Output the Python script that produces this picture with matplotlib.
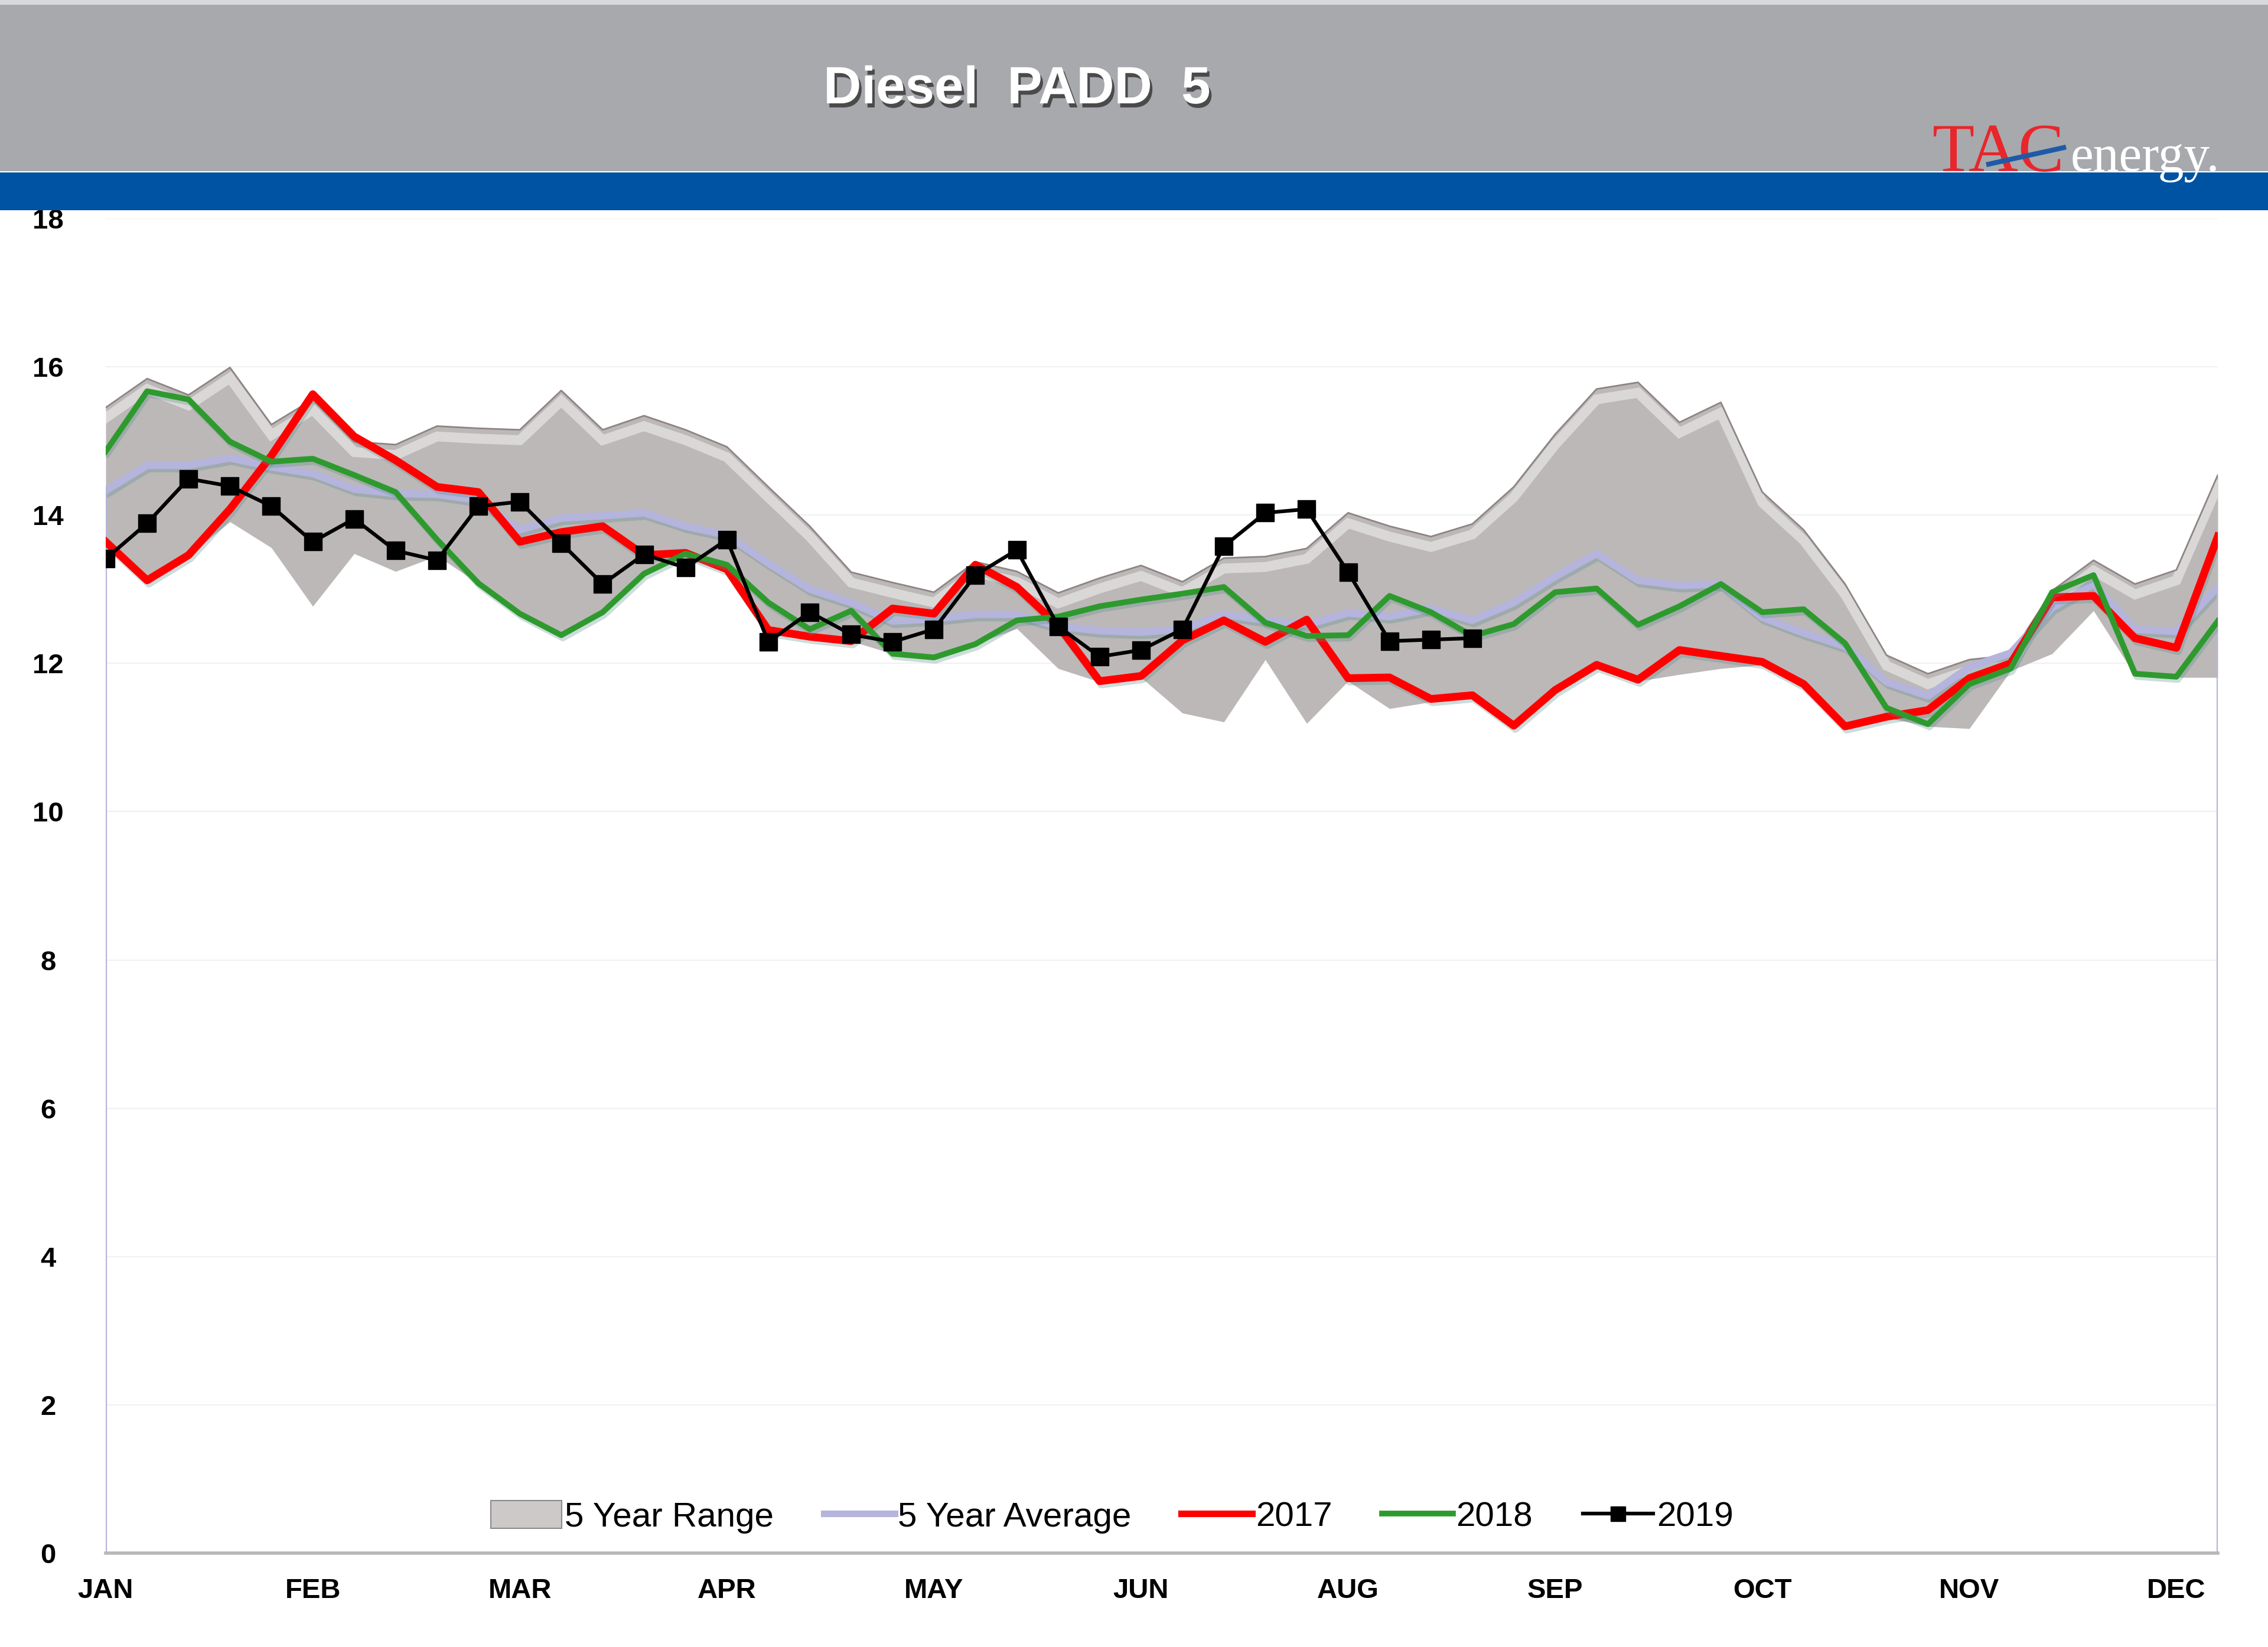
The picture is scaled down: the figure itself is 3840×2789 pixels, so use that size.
import numpy as np
import matplotlib
matplotlib.use('Agg')
import matplotlib.pyplot as plt
import matplotlib.patheffects as pe
from matplotlib.patches import Rectangle, Patch
from matplotlib.lines import Line2D

# etiquettes de l'axe x (une toutes les 5 semaines)
mois = ['JAN', 'FEB', 'MAR', 'APR', 'MAY', 'JUN', 'AUG', 'SEP', 'OCT', 'NOV', 'DEC']

# plage 5 ans (min / max)
haut = [15.45, 15.84, 15.62, 15.99, 15.22, 15.56, 14.99, 14.95, 15.20, 15.17,
        15.15, 15.68, 15.15, 15.34, 15.15, 14.92, 14.38, 13.85, 13.23, 13.09,
        12.96, 13.37, 13.24, 12.95, 13.15, 13.32, 13.10, 13.42, 13.44, 13.55,
        14.03, 13.85, 13.71, 13.88, 14.38, 15.09, 15.70, 15.79, 15.25, 15.52,
        14.31, 13.80, 13.07, 12.11, 11.86, 12.05, 12.11, 12.98, 13.39, 13.07,
        13.26, 14.54]
bas = [13.64, 13.12, 13.46, 13.91, 13.56, 12.77, 13.48, 13.24, 13.45, 13.08,
       12.66, 12.38, 12.69, 13.21, 13.46, 13.27, 12.45, 12.36, 12.30, 12.13,
       12.06, 12.26, 12.47, 11.93, 11.75, 11.81, 11.33, 11.21, 12.05, 11.19,
       11.76, 11.39, 11.48, 11.53, 11.12, 11.60, 11.95, 11.76, 11.85, 11.93,
       11.98, 11.70, 11.13, 11.27, 11.15, 11.12, 11.90, 12.13, 12.71, 11.84,
       11.81, 11.81]
moyenne = [14.33, 14.67, 14.67, 14.77, 14.65, 14.56, 14.35, 14.29, 14.28, 14.20,
           13.80, 13.96, 13.99, 14.03, 13.85, 13.73, 13.35, 13.00, 12.82, 12.57,
           12.60, 12.66, 12.66, 12.50, 12.44, 12.42, 12.46, 12.66, 12.58, 12.52,
           12.68, 12.63, 12.74, 12.58, 12.82, 13.17, 13.48, 13.12, 13.05, 13.07,
           12.62, 12.41, 12.23, 11.75, 11.56, 11.95, 12.14, 12.75, 13.07, 12.46,
           12.43, 13.03]
y2017 = [13.64, 13.12, 13.46, 14.08, 14.80, 15.63, 15.06, 14.74, 14.38, 14.31,
         13.64, 13.77, 13.85, 13.46, 13.49, 13.27, 12.45, 12.36, 12.30, 12.74,
         12.67, 13.33, 13.03, 12.51, 11.76, 11.83, 12.31, 12.58, 12.29, 12.59,
         11.80, 11.81, 11.52, 11.57, 11.16, 11.64, 11.98, 11.78, 12.18, 12.10,
         12.02, 11.72, 11.15, 11.28, 11.37, 11.80, 12.00, 12.89, 12.91, 12.34,
         12.21, 13.71]
y2018 = [14.86, 15.67, 15.56, 14.99, 14.72, 14.76, 14.54, 14.31, 13.67, 13.08,
         12.67, 12.38, 12.69, 13.21, 13.48, 13.33, 12.82, 12.46, 12.71, 12.13,
         12.08, 12.26, 12.58, 12.63, 12.77, 12.86, 12.94, 13.03, 12.55, 12.37,
         12.38, 12.91, 12.69, 12.37, 12.53, 12.96, 13.01, 12.52, 12.77, 13.07,
         12.69, 12.73, 12.27, 11.40, 11.18, 11.72, 11.93, 12.96, 13.19, 11.86,
         11.82, 12.57]
y2019 = [13.41, 13.89, 14.49, 14.39, 14.12, 13.64, 13.95, 13.52, 13.39, 14.12,
         14.18, 13.62, 13.07, 13.47, 13.29, 13.67, 12.29, 12.69, 12.39, 12.29,
         12.46, 13.19, 13.53, 12.50, 12.09, 12.18, 12.46, 13.58, 14.03, 14.08,
         13.23, 12.30, 12.32, 12.34]

semaines = np.arange(len(haut))
W, H = 3840, 2789

fig = plt.figure(figsize=(W / 100, H / 100), dpi=100, facecolor='white')
ax = fig.add_axes([179 / W, 1 - 2630 / H, (3755 - 179) / W, (2630 - 370) / H])

# zone grise de la plage 5 ans, avec un petit effet de relief
zone = ax.fill_between(semaines, bas, haut, color='#bcb8b8', lw=0, zorder=1)
reflet, = ax.plot(semaines, np.array(haut) - 0.14, color='white', lw=12,
                  alpha=0.45, zorder=1.1, solid_joinstyle='miter')
reflet.set_clip_path(zone.get_paths()[0], ax.transData)
ax.plot(semaines, haut, color='#8e8484', lw=2, zorder=1.2)

ombre = [pe.SimpleLineShadow(offset=(2, -4), shadow_color='#5a8c8c', alpha=0.3),
         pe.Normal()]

lav = '#b4b4dc'
ax.plot(semaines, moyenne, color=lav, lw=9, zorder=2, path_effects=ombre)
ax.vlines([semaines[0], semaines[-1]], 0, [moyenne[0], moyenne[-1]],
          color=lav, lw=3, zorder=2)
ax.plot(semaines, y2017, color='#ff0000', lw=9.5, zorder=3, path_effects=ombre)
ax.plot(semaines, y2018, color='#2e9a2e', lw=7, zorder=4, path_effects=ombre)
ax.plot(semaines[:len(y2019)], y2019, color='black', lw=4.5, marker='s',
        markersize=22, zorder=5)

ax.set_xlim(0, 51)
ax.set_ylim(0, 18)
ax.set_yticks(range(0, 19, 2))
ax.set_xticks(semaines[::5])
ax.set_xticklabels(mois)
ax.yaxis.grid(True, color='#f1f1f1', lw=1.5)
ax.set_axisbelow(True)
for s in ['top', 'left', 'right']:
    ax.spines[s].set_visible(False)
ax.spines['bottom'].set_color('#b8b8b8')
ax.spines['bottom'].set_linewidth(4)
ax.tick_params(axis='both', length=0, labelsize=34)
ax.tick_params(axis='y', pad=70)
ax.tick_params(axis='x', pad=30)
for t in ax.get_yticklabels():
    t.set_horizontalalignment('center')
for t in ax.get_xticklabels() + ax.get_yticklabels():
    t.set_fontweight('bold')
    t.set_family('Liberation Sans')

# legende
poignees = [Patch(facecolor='#cdc9c9', edgecolor='#8a8a8a', lw=1.5),
            Line2D([], [], color=lav, lw=8),
            Line2D([], [], color='#ff0000', lw=8),
            Line2D([], [], color='#2e9a2e', lw=7),
            Line2D([], [], color='black', lw=4.5, marker='s', markersize=18)]
noms = ['5 Year Range', '5 Year Average', '2017', '2018', '2019']
ax.legend(poignees, noms, loc='center', bbox_to_anchor=(0.4765, 0.027), ncol=5,
          frameon=False, prop={'family': 'Liberation Sans', 'size': 42},
          handlelength=2.05, handleheight=0.85, handletextpad=0.1,
          columnspacing=1.45)

# bandeau du haut
fig.add_artist(Rectangle((0, 1 - 290 / H), 1, 290 / H, transform=fig.transFigure,
                         facecolor='#a7a9ac', edgecolor='none', zorder=10))
fig.add_artist(Rectangle((0, 1 - 8 / H), 1, 8 / H, transform=fig.transFigure,
                         facecolor='#d8d9db', edgecolor='none', zorder=10))
fig.add_artist(Rectangle((0, 1 - 356 / H), 1, 64 / H, transform=fig.transFigure,
                         facecolor='#0053a3', edgecolor='none', zorder=10))
fig.text(1722 / W, 1 - 152 / H, 'Diesel  PADD  5', ha='center', va='center',
         color='white', fontsize=64, fontweight='bold', family='Liberation Sans',
         zorder=11,
         path_effects=[pe.SimplePatchShadow(offset=(3, -5), shadow_rgbFace='#333333',
                                            alpha=0.8), pe.Normal()])

# logo
fig.text(3272 / W, 1 - 290 / H, 'TAC', ha='left', va='baseline', color='#e8262c',
         fontsize=84, family='Liberation Serif', zorder=11)
fig.text(3506 / W, 1 - 290 / H, 'energy.', ha='left', va='baseline', color='white',
         fontsize=63, family='Liberation Serif', zorder=11)
fig.add_artist(Line2D([3367 / W, 3494 / W], [1 - 278 / H, 1 - 250 / H],
                      transform=fig.transFigure, color='#1f5aa6', lw=6, zorder=12))

plt.savefig('out.png', dpi=100, facecolor='white')
